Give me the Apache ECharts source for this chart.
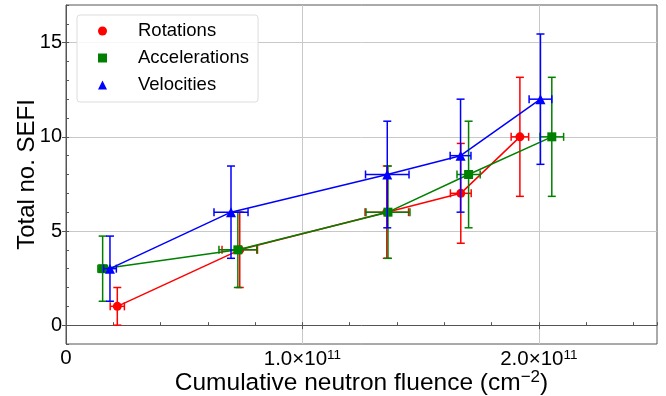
<!DOCTYPE html>
<html>
<head>
<meta charset="utf-8">
<script src="https://cdn.jsdelivr.net/npm/echarts@6/dist/echarts.min.js"></script>
<style>
html,body{margin:0;padding:0;background:#fff}
#chart{width:666px;height:396px}
</style>
</head>
<body>
<div id="chart"></div>
<script>
// fluence in units of 1e11 cm^-2, errors
var rotX=[0.217,0.735,1.357,1.670,1.920];
var rotY=[1,4,6,7,10];
var rotXErr=[0.030,0.075,0.092,0.044,0.037];
var rotYErr=[1.0,2.0,2.45,2.65,3.16];

var accX=[0.155,0.727,1.362,1.703,2.055];
var accY=[3,4,6,8,10];
var accXErr=[0.020,0.080,0.093,0.049,0.050];
var accYErr=[1.73,2.0,2.45,2.83,3.16];

var velX=[0.186,0.698,1.359,1.669,2.007];
var velY=[3,6,8,9,12];
var velXErr=[0.027,0.072,0.092,0.044,0.048];
var velYErr=[1.73,2.45,2.83,3.0,3.46];

var xTicks=[0,1,2];
var yTicks=[0,5,10,15];

var font='Liberation Sans';

function pts(xs,ys){ return xs.map(function(x,i){ return [x,ys[i]]; }); }
function errPts(xs,ys,xe,ye){ return xs.map(function(x,i){ return [x,ys[i],xe[i],ye[i]]; }); }

function errRender(color){
  return function(params,api){
    var x=api.value(0),y=api.value(1),xe=api.value(2),ye=api.value(3);
    var t=api.coord([x,y+ye]),b=api.coord([x,y-ye]);
    var l=api.coord([x-xe,y]),r=api.coord([x+xe,y]);
    var h=4;
    var st={stroke:color,lineWidth:1.5};
    function ln(x1,y1,x2,y2){ return {type:'line',shape:{x1:x1,y1:y1,x2:x2,y2:y2},style:st}; }
    return {type:'group',children:[
      ln(t[0],t[1],b[0],b[1]),
      ln(t[0]-h,t[1],t[0]+h,t[1]),
      ln(b[0]-h,b[1],b[0]+h,b[1]),
      ln(l[0],l[1],r[0],r[1]),
      ln(l[0],l[1]-h,l[0],l[1]+h),
      ln(r[0],r[1]-h,r[0],r[1]+h)
    ]};
  };
}

function makeSeries(name,color,symbol,size,xs,ys,xe,ye,z){
  return [
    {name:name+' err',type:'custom',renderItem:errRender(color),data:errPts(xs,ys,xe,ye),
     encode:{x:0,y:1},z:z,silent:true},
    {name:name,type:'line',data:pts(xs,ys),symbol:symbol,symbolSize:size,showSymbol:true,
     lineStyle:{color:color,width:1.5},itemStyle:{color:color},z:z}
  ];
}

var series=[].concat(
  makeSeries('Rotations','#ff0000','circle',9,rotX,rotY,rotXErr,rotYErr,2),
  makeSeries('Accelerations','#008000','rect',9,accX,accY,accXErr,accYErr,3),
  makeSeries('Velocities','#0000ff','triangle',10,velX,velY,velXErr,velYErr,4)
);

var chart=echarts.init(document.getElementById('chart'),null,{renderer:'canvas'});
chart.setOption({
  animation:false,
  textStyle:{fontFamily:font},
  grid:{left:66,right:9,top:5,bottom:52,outerBoundsMode:'none',containLabel:false,
    show:true,borderColor:'#555',borderWidth:1,backgroundColor:'transparent'},
  legend:{
    orient:'vertical',left:77,top:15,
    data:[{name:'Rotations',icon:'circle'},{name:'Accelerations',icon:'rect'},{name:'Velocities',icon:'triangle'}],
    itemWidth:9,itemHeight:9,itemGap:7,
    padding:[6,9,7,21],
    backgroundColor:'rgba(255,255,255,0.85)',borderColor:'#dddddd',borderWidth:1,borderRadius:3,
    textStyle:{fontFamily:font,fontSize:18.5,color:'#000',lineHeight:20,padding:[0,0,0,26]}
  },
  xAxis:[
    {type:'value',min:0,max:2.5,interval:0.2,position:'bottom',
     axisLine:{show:true,lineStyle:{color:'#555',width:1}},
     axisTick:{show:true,inside:true,length:3,lineStyle:{color:'#555'}},
     axisLabel:{show:false},splitLine:{show:false}},
    {type:'value',min:0,max:2.5,position:'bottom',
     name:'Cumulative neutron fluence (cm{s|\u22122})',nameLocation:'middle',nameGap:25,nameMoveOverlap:false,
     nameTextStyle:{fontFamily:font,fontSize:24.5,color:'#000',lineHeight:28,
       rich:{s:{fontFamily:font,fontSize:17,padding:[0,0,11,0],color:'#000'}}},
     axisLine:{show:false},
     axisTick:{show:true,length:4,customValues:xTicks,lineStyle:{color:'#555'}},
     axisLabel:{show:true,customValues:xTicks,margin:4,color:'#000',fontFamily:font,fontSize:20.5,
       formatter:function(v){ return v===0?'0':'{b|'+v.toFixed(1)+'\u00d710}{s|11}'; },
       rich:{b:{fontFamily:font,fontSize:20.5,color:'#000'},s:{fontFamily:font,fontSize:13.5,padding:[0,0,9,0],color:'#000'}}},
     splitLine:{show:true,lineStyle:{color:'#c8c8c8',width:1}}}
  ],
  yAxis:[
    {type:'value',min:-1,max:17,interval:1,position:'left',
     axisLine:{show:true,lineStyle:{color:'#555',width:1}},
     axisTick:{show:true,inside:true,length:3,lineStyle:{color:'#555'}},
     axisLabel:{show:false},splitLine:{show:false}},
    {type:'value',min:-1,max:17,position:'left',
     name:'Total no. SEFI',nameLocation:'middle',nameGap:27,nameRotate:90,nameMoveOverlap:false,
     nameTextStyle:{fontFamily:font,fontSize:24,color:'#000'},
     axisLine:{show:false},
     axisTick:{show:true,length:4,customValues:yTicks,lineStyle:{color:'#555'}},
     axisLabel:{show:true,customValues:yTicks,margin:4,color:'#000',fontFamily:font,fontSize:20},
     splitLine:{show:true,lineStyle:{color:'#c8c8c8',width:1}}}
  ],
  series:series
});
</script>
</body>
</html>
